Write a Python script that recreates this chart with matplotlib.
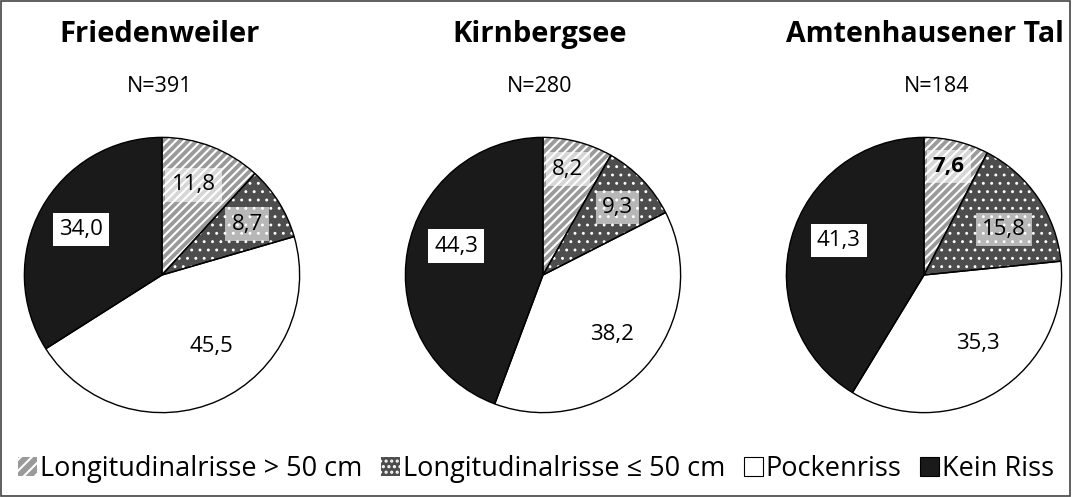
import numpy as np
import matplotlib.pyplot as plt
from matplotlib.patches import Patch, Rectangle

plt.rcParams['font.family'] = ['Open Sans', 'DejaVu Sans']
plt.rcParams['hatch.linewidth'] = 1.5

# Data
sites = ["Friedenweiler", "Kirnbergsee", "Amtenhausener Tal"]
counts = [391, 280, 184]
categories = ["Longitudinalrisse > 50 cm", "Longitudinalrisse \u2264 50 cm", "Pockenriss", "Kein Riss"]
shares = [
    [11.8, 8.7, 45.5, 34.0],
    [8.2, 9.3, 38.2, 44.3],
    [7.6, 15.8, 35.3, 41.3],
]

# Styles
face = ["#9a9a9a", "#4d4d4d", "white", "#1a1a1a"]
hatches = ["////", "..", None, None]
box_col = ["white", "white", None, "white"]
box_alpha = [0.6, 0.6, 0, 1]

# label positions (in radius units) per pie
label_pos = [
    [(0.23, 0.655), (0.62, 0.37), (0.36, -0.52), (-0.59, 0.33)],
    [(0.18, 0.77), (0.54, 0.49), (0.50, -0.43), (-0.63, 0.21)],
    [(0.18, 0.79), (0.58, 0.33), (0.39, -0.50), (-0.62, 0.25)],
]
centers_x = [162, 543, 924]
title_x = [160, 540, 937]
W, H = 1072, 497
R = 139
CY = 275

fig = plt.figure(figsize=(W / 100, H / 100), dpi=100)
fig.patches.append(Rectangle((0.001, 0.002), 0.997, 0.996, transform=fig.transFigure,
                             fill=False, edgecolor="#444444", linewidth=1.2))

for i, site in enumerate(sites):
    cx = centers_x[i]
    ax = fig.add_axes([(cx - R) / W, (H - CY - R) / H, 2 * R / W, 2 * R / H])
    # fills with hatching
    wedges, _ = ax.pie(shares[i], startangle=90, counterclock=False, colors=face,
                       wedgeprops=dict(edgecolor="white", linewidth=0))
    for k, w in enumerate(wedges):
        if hatches[k]:
            w.set_hatch(hatches[k])
            if k == 1:
                try:
                    w.set_hatch_linewidth(0.9)
                except AttributeError:
                    pass
    # black outlines on top
    ax.pie(shares[i], startangle=90, counterclock=False, colors=["none"] * 4,
           wedgeprops=dict(edgecolor="black", linewidth=1.0))
    ax.set_xlim(-1.01, 1.01)
    ax.set_ylim(-1.01, 1.01)
    ax.set_aspect("equal")
    for k in range(4):
        x, y = label_pos[i][k]
        txt = f"{shares[i][k]:.1f}".replace(".", ",")
        bbox = None
        if box_col[k]:
            bbox = dict(boxstyle="square,pad=0.28", facecolor=box_col[k],
                        edgecolor="none", alpha=box_alpha[k])
        fw = "bold" if (i == 2 and k == 0) else "normal"
        ax.text(x, y, txt, ha="center", va="center", fontsize=16, bbox=bbox,
                fontweight=fw, color="black")
    if i == 2:
        fig.text(1064 / W, 1 - 42 / H, site, ha="right", va="baseline",
                 fontsize=20.5, fontweight="bold")
    else:
        fig.text(title_x[i] / W, 1 - 42 / H, site, ha="center", va="baseline",
                 fontsize=21, fontweight="bold")
    fig.text(title_x[i] / W, 1 - 92 / H, f"N={counts[i]}", ha="center", va="baseline",
             fontsize=15.5)

handles = [Patch(facecolor=face[k], edgecolor="black", linewidth=0.8) for k in range(4)]
handles[0] = Patch(facecolor="#9a9a9a", edgecolor="white", hatch="///", linewidth=0)
handles[1] = Patch(facecolor="#4d4d4d", edgecolor="white", hatch="...", linewidth=0)
fig.legend(handles, categories, loc="center", bbox_to_anchor=(0.5, 1 - 469 / H),
           ncol=4, frameon=False, fontsize=19.5, handlelength=0.7, handleheight=0.7,
           handletextpad=0.1, columnspacing=0.7, borderpad=0)

fig.savefig("out.png", dpi=100)
